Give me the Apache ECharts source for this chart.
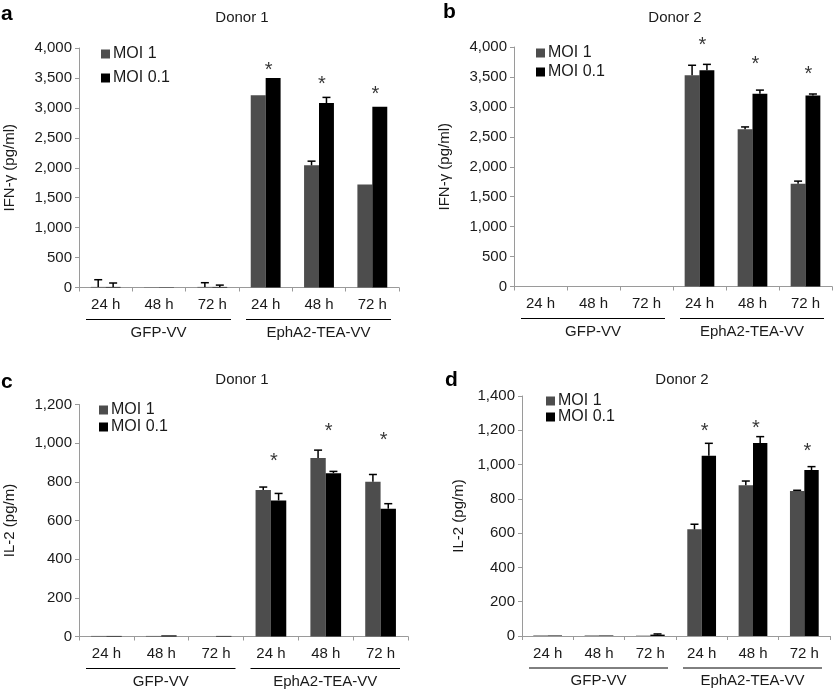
<!DOCTYPE html>
<html>
<head>
<meta charset="utf-8">
<script src="https://cdn.jsdelivr.net/npm/echarts@6/dist/echarts.min.js"></script>
<style>
html,body{margin:0;padding:0;background:#fff;}
#main{width:834px;height:690px;}
</style>
</head>
<body>
<div id="main"></div>
<script>
// ---------- DATA ----------
const categories = ['24 h', '48 h', '72 h', '24 h', '48 h', '72 h'];
const groups = ['GFP-VV', 'EphA2-TEA-VV'];
const seriesNames = ['MOI 1', 'MOI 0.1'];

// Panel a: IFN-γ, Donor 1
const aMoi1 = [10, 5, 10, 3210, 2040, 1720];
const aMoi1Err = [120, 0, 70, 0, 70, 0];
const aMoi01 = [10, 5, 10, 3500, 3080, 3020];
const aMoi01Err = [65, 0, 30, 0, 95, 0];
const aStars = [null, null, null, 3690, 3455, 3290];

// Panel b: IFN-γ, Donor 2
const bMoi1 = [0, 0, 0, 3530, 2625, 1715];
const bMoi1Err = [0, 0, 0, 165, 40, 45];
const bMoi01 = [0, 0, 0, 3610, 3220, 3190];
const bMoi01Err = [0, 0, 0, 100, 60, 25];
const bStars = [null, null, null, 4090, 3770, 3600];

// Panel c: IL-2, Donor 1
const cMoi1 = [3, 3, 0, 758, 923, 800];
const cMoi1Err = [0, 0, 0, 15, 41, 38];
const cMoi01 = [3, 6, 3, 704, 845, 661];
const cMoi01Err = [0, 0, 0, 36, 9, 26];
const cStars = [null, null, null, 926, 1081, 1037];

// Panel d: IL-2, Donor 2
const dMoi1 = [3, 3, 2, 622, 879, 846];
const dMoi1Err = [0, 0, 0, 30, 25, 4];
const dMoi01 = [3, 3, 8, 1052, 1126, 968];
const dMoi01Err = [0, 0, 4, 72, 37, 20];
const dStars = [null, null, null, 1217, 1231, 1099];

const ifnTicks = { min: 0, max: 4000, interval: 500 };
const il2cTicks = { min: 0, max: 1200, interval: 200 };
const il2dTicks = { min: 0, max: 1400, interval: 200 };

// ---------- CHART ----------
const FONT = '"Liberation Sans", Arial, sans-serif';
const TXT = '#1a1a1a';
const AX = '#9a9a9a';
const GREY = '#4d4d4d';
const BLACK = '#000000';
const CAT_GAP = 0.44;

const panels = [
  { letter: 'a', title: 'Donor 1', yName: 'IFN-\u03b3 (pg/ml)', ticks: ifnTicks,
    m1: aMoi1, e1: aMoi1Err, m2: aMoi01, e2: aMoi01Err, stars: aStars,
    grid: { left: 79, top: 48, width: 320, height: 239.5 }, nameGap: 62,
    legend: { left: 101, top: 46, itemGap: 8 }, titleX: 237, titleY: 5, letterX: 1, letterY: 4 },
  { letter: 'b', title: 'Donor 2', yName: 'IFN-\u03b3 (pg/ml)', ticks: ifnTicks,
    m1: bMoi1, e1: bMoi1Err, m2: bMoi01, e2: bMoi01Err, stars: bStars,
    grid: { left: 514, top: 47, width: 318, height: 239.5 }, nameGap: 62,
    legend: { left: 536, top: 45, itemGap: 3 }, titleX: 670, titleY: 5, letterX: 443, letterY: 2 },
  { letter: 'c', title: 'Donor 1', yName: 'IL-2 (pg/m)', ticks: il2cTicks,
    m1: cMoi1, e1: cMoi1Err, m2: cMoi01, e2: cMoi01Err, stars: cStars,
    grid: { left: 79, top: 404.5, width: 329, height: 232 }, nameGap: 62,
    legend: { left: 99, top: 402, itemGap: 1 }, titleX: 237, titleY: 367, letterX: 1, letterY: 372 },
  { letter: 'd', title: 'Donor 2', yName: 'IL-2 (pg/m)', ticks: il2dTicks,
    m1: dMoi1, e1: dMoi1Err, m2: dMoi01, e2: dMoi01Err, stars: dStars,
    grid: { left: 522, top: 396, width: 308, height: 240 }, nameGap: 56,
    legend: { left: 546, top: 393, itemGap: 0 }, titleX: 677, titleY: 367, letterX: 445, letterY: 370 }
];

function addCommas(v) {
  return String(v).replace(/\B(?=(\d{3})+(?!\d))/g, ',');
}

function errorRenderer(sideSign) {
  return function (params, api) {
    const cat = api.value(0), val = api.value(1), err = api.value(2);
    if (!err) return null;
    const band = api.size([1, 0])[0];
    const barW = band * (1 - CAT_GAP) / 2;
    const p0 = api.coord([cat, val]);
    const p1 = api.coord([cat, val + err]);
    const x = p0[0] + sideSign * barW / 2;
    const cap = 4;
    return {
      type: 'group',
      children: [
        { type: 'line', shape: { x1: x, y1: p0[1], x2: x, y2: p1[1] },
          style: { stroke: '#000', lineWidth: 1.5 } },
        { type: 'line', shape: { x1: x - cap, y1: p1[1], x2: x + cap, y2: p1[1] },
          style: { stroke: '#000', lineWidth: 1.5 } }
      ]
    };
  };
}

const option = {
  animation: false,
  backgroundColor: '#fff',
  textStyle: { fontFamily: FONT },
  title: [], legend: [], grid: [], xAxis: [], yAxis: [], series: [], graphic: []
};

panels.forEach((p, i) => {
  option.title.push({
    text: p.title, left: p.titleX, top: p.titleY, textAlign: 'center',
    textStyle: { fontFamily: FONT, fontSize: 15, fontWeight: 'normal', color: TXT }
  });
  option.graphic.push({
    type: 'text', left: p.letterX, top: p.letterY,
    style: { text: p.letter, font: 'bold 21px ' + FONT, fill: '#000' }
  });
  option.legend.push({
    data: seriesNames, left: p.legend.left, top: p.legend.top, orient: 'vertical',
    itemGap: p.legend.itemGap, itemWidth: 9, itemHeight: 9, icon: 'rect',
    selectedMode: false, padding: 0,
    textStyle: { fontFamily: FONT, fontSize: 16, color: TXT, padding: [0, 0, 0, -2] }
  });
  option.grid.push(Object.assign({ containLabel: false }, p.grid));
  option.xAxis.push({
    type: 'category', gridIndex: i, data: categories,
    axisLine: { lineStyle: { color: AX, width: 1 } },
    axisTick: { show: true, interval: 0, length: 4, lineStyle: { color: AX } },
    axisLabel: { interval: 0, margin: 10, fontSize: 15, color: TXT, fontFamily: FONT },
    splitLine: { show: false }
  });
  option.yAxis.push({
    type: 'value', gridIndex: i, min: p.ticks.min, max: p.ticks.max, interval: p.ticks.interval,
    name: p.yName, nameLocation: 'middle', nameRotate: 90, nameGap: p.nameGap,
    nameTextStyle: { fontSize: 15, color: TXT, fontFamily: FONT },
    axisLine: { show: true, lineStyle: { color: AX, width: 1 } },
    axisTick: { show: true, length: 4, lineStyle: { color: AX } },
    axisLabel: { fontSize: 15, color: TXT, fontFamily: FONT, margin: 7, formatter: addCommas },
    splitLine: { show: false }
  });
  option.series.push({
    name: seriesNames[0], type: 'bar', xAxisIndex: i, yAxisIndex: i,
    data: p.m1, barGap: '0%', barCategoryGap: (CAT_GAP * 100) + '%',
    itemStyle: { color: GREY }
  });
  option.series.push({
    name: seriesNames[1], type: 'bar', xAxisIndex: i, yAxisIndex: i,
    data: p.m2, barGap: '0%', barCategoryGap: (CAT_GAP * 100) + '%',
    itemStyle: { color: BLACK }
  });
  option.series.push({
    type: 'custom', xAxisIndex: i, yAxisIndex: i, clip: false,
    renderItem: errorRenderer(-1),
    data: p.m1.map((v, k) => [k, v, p.e1[k]]), z: 5
  });
  option.series.push({
    type: 'custom', xAxisIndex: i, yAxisIndex: i, clip: false,
    renderItem: errorRenderer(1),
    data: p.m2.map((v, k) => [k, v, p.e2[k]]), z: 5
  });
  option.series.push({
    type: 'scatter', xAxisIndex: i, yAxisIndex: i, clip: false, symbolSize: 0,
    data: p.stars.map((v, k) => v == null ? null : [k, v]).filter(d => d),
    label: { show: true, position: 'inside', formatter: '*', fontSize: 20,
             color: '#000', fontFamily: FONT, offset: [3, 4] },
    silent: true
  });
});

const chart = echarts.init(document.getElementById('main'), null, { renderer: 'canvas' });
chart.setOption(option);

// group labels with underlines under the category axis
const extra = [];
panels.forEach((p, i) => {
  const x0 = chart.convertToPixel({ xAxisIndex: i }, 0);
  const x1 = chart.convertToPixel({ xAxisIndex: i }, 1);
  const band = x1 - x0;
  const y0 = chart.convertToPixel({ yAxisIndex: i }, 0);
  [[0, 2], [3, 5]].forEach((rng, g) => {
    const left = chart.convertToPixel({ xAxisIndex: i }, rng[0]) - band / 2 + 7;
    const right = chart.convertToPixel({ xAxisIndex: i }, rng[1]) + band / 2 - 8;
    extra.push({
      type: 'line', silent: true,
      shape: { x1: left, y1: y0 + 32, x2: right, y2: y0 + 32 },
      style: { stroke: '#000', lineWidth: 1 }
    });
    extra.push({
      type: 'text', silent: true, x: (left + right) / 2, y: y0 + 45,
      style: { text: groups[g], font: '15px ' + FONT, fill: TXT, align: 'center', verticalAlign: 'middle' }
    });
  });
});
chart.setOption({ graphic: option.graphic.concat(extra) });
</script>
</body>
</html>
